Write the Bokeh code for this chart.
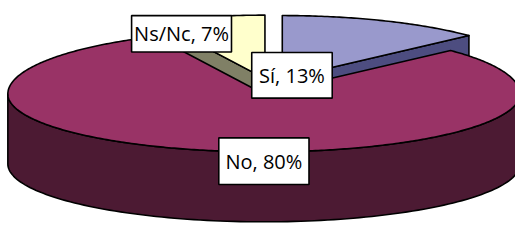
import numpy as np
from bokeh.plotting import figure
from bokeh.models import Range1d, ColumnDataSource
from bokeh.embed import file_html
from bokeh.resources import INLINE
from bokeh.core.properties import value

# ---- data ----
categories = ["Sí", "No", "Ns/Nc"]
percents = [13, 80, 7]

# ---- styles ----
top_colors = ["#9999CC", "#993366", "#FFFFCC"]
side_colors = ["#4D4D80", "#4C1A33", "#808066"]
CX, CY = 279.0, 91.0          # pie centre (reference px, y downwards)
A, B_FAR, B_NEAR = 264.0, 68.0, 62.0
DEPTH = 75.0
explode = [0.11, 0.15, 0.11]
label_offsets = [(10, -4), (0, 72), (-86, -48)]   # from each slice's apex
label_sizes = [(83, 49), (93, 50), (103, 39)]
FONT = "Open Sans"


def proj(vx, vy, deg, r=1.0):
    t = np.radians(np.asarray(deg, dtype=float))
    u, v = np.sin(t), np.cos(t)
    b = np.where(v > 0, B_FAR, B_NEAR)
    return vx + A * r * u, vy - b * r * v


total = float(sum(percents))
starts, ends = [], []
acc = 0.0
for pct in percents:
    starts.append(acc * 360 / total)
    acc += pct
    ends.append(acc * 360 / total)

slices = []
for i in range(len(categories)):
    t0, t1 = starts[i], ends[i]
    mid = (t0 + t1) / 2
    vx, vy = proj(CX, CY, mid, explode[i])
    slices.append(dict(i=i, t0=t0, t1=t1, mid=mid, vx=float(vx), vy=float(vy)))

# draw far slices first
order = sorted(slices, key=lambda s: -np.cos(np.radians(s["mid"])))

xs, ys, fills = [], [], []
for s in order:
    i, t0, t1, vx, vy = s["i"], s["t0"], s["t1"], s["vx"], s["vy"]
    # radial faces
    for t, nrm in ((t0, t0 - 90), (t1, t1 + 90)):
        if np.cos(np.radians(nrm)) < -1e-6:
            ox, oy = proj(vx, vy, t)
            ox, oy = float(ox), float(oy)
            xs.append([vx, ox, ox, vx])
            ys.append([vy, oy, oy + DEPTH, vy + DEPTH])
            fills.append(side_colors[i])
    # outer wall
    w0, w1 = max(t0, 90.0), min(t1, 270.0)
    if w1 > w0:
        ang = np.linspace(w0, w1, 120)
        ax, ay = proj(vx, vy, ang)
        xs.append(list(ax) + list(ax[::-1]))
        ys.append(list(ay) + list((ay + DEPTH)[::-1]))
        fills.append(side_colors[i])
    # top face
    ang = np.linspace(t0, t1, max(int((t1 - t0) * 1.5), 8))
    ax, ay = proj(vx, vy, ang)
    xs.append([vx] + list(ax))
    ys.append([vy] + list(ay))
    fills.append(top_colors[i])

p = figure(width=515, height=224, x_range=Range1d(0, 531), y_range=Range1d(240, 0),
           output_backend="svg", toolbar_location=None, min_border=0,
           x_axis_location=None, y_axis_location=None)
p.grid.visible = False
p.outline_line_color = None
p.background_fill_color = "white"

p.patches(xs="xs", ys="ys", fill_color="fills", line_color="black", line_width=1.6,
          line_join="round", source=ColumnDataSource(dict(xs=xs, ys=ys, fills=fills)))

# labels
lx, ly, lw, lh, txt = [], [], [], [], []
for s in slices:
    i = s["i"]
    dx, dy = label_offsets[i]
    lx.append(s["vx"] + dx)
    ly.append(s["vy"] + dy)
    lw.append(label_sizes[i][0])
    lh.append(label_sizes[i][1])
    txt.append(f"{categories[i]}, {percents[i]}%")
lx, ly, lw, lh = map(np.array, (lx, ly, lw, lh))
p.quad(left=lx - lw / 2, right=lx + lw / 2, top=ly - lh / 2, bottom=ly + lh / 2,
       fill_color="white", line_color="black", line_width=1.6)
p.text(x=lx, y=ly, text=txt, text_align="center", text_baseline="middle",
       text_font=value(FONT), text_font_size="20px", text_color="black")

open("out.html", "w").write(file_html(p, INLINE))
